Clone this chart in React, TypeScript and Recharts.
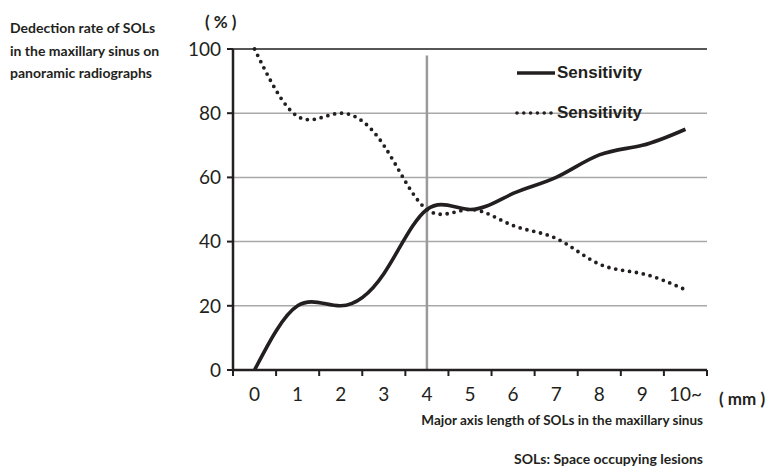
import React from 'react'
import {
  LineChart, Line, XAxis, YAxis, CartesianGrid, ReferenceLine, Legend,
} from 'recharts'

// ---------------------------------------------------------------------------
// Data
// ---------------------------------------------------------------------------

const X_LABELS = ['0', '1', '2', '3', '4', '5', '6', '7', '8', '9', '10~']
const SOLID = [0, 20, 20, 30, 50, 50, 55, 60, 67, 70, 75]
const DOTTED = [100, 79, 80, 70, 50, 50, 45, 41, 33, 30, 25]
const Y_TICKS = [0, 20, 40, 60, 80, 100]
const SERIES_NAMES = ['Sensitivity', 'Sensitivity']
const MARK_X = 4

const rows = X_LABELS.map((label, i) => ({ x: i, label, solid: SOLID[i], dotted: DOTTED[i] }))
// tick marks sit on band edges, labels in the middle
const X_TICKS = [...X_LABELS.map((_, i) => i - 0.5), X_LABELS.length - 0.5]

// ---------------------------------------------------------------------------
// Layout / colours
// ---------------------------------------------------------------------------

const W = 769
const H = 472
const MARGIN = { top: 49, right: 62, bottom: 72, left: 173 }
const Y_AXIS_W = 60
const PLOT_W = W - MARGIN.left - Y_AXIS_W - MARGIN.right
const HALF_BAND = PLOT_W / X_LABELS.length / 2

const INK = '#231f20'
const GRID = '#a9a9a9'
const TICK_FONT = 'Lato, "Open Sans", sans-serif'
const LABEL_FONT = 'Lato, "Open Sans", sans-serif'

function XTick({ x, y, index }: any) {
  if (index >= X_LABELS.length) return <g />
  return (
    <text x={x + HALF_BAND} y={y + 21} textAnchor="middle" fontSize={19} fill={INK} fontFamily={TICK_FONT}>
      {X_LABELS[index]}
    </text>
  )
}

function LegendBox() {
  const row = (dashed: boolean, name: string, key: number) => (
    <div key={key} style={{ display: 'flex', alignItems: 'center', height: 40 }}>
      <svg width={42} height={10}>
        <line
          x1={2} y1={5} x2={40} y2={5} stroke={INK}
          strokeWidth={dashed ? 3.6 : 3.5}
          strokeDasharray={dashed ? '0 6.8' : undefined}
          strokeLinecap={dashed ? 'round' : 'butt'}
        />
      </svg>
      <span style={{ fontFamily: '"Liberation Sans", Arial, sans-serif', fontWeight: 700, fontSize: 17, color: INK }}>
        {name}
      </span>
    </div>
  )
  return <div>{SERIES_NAMES.map((n, i) => row(i === 1, n, i))}</div>
}

export default function App() {
  return (
    <div style={{ position: 'absolute', left: 0, top: 0, width: W, height: H, background: '#fff' }}>
      <LineChart width={W} height={H} data={rows} margin={MARGIN}>
        <CartesianGrid vertical={false} stroke={GRID} strokeWidth={1.5} />
        <XAxis
          dataKey="x" type="number" domain={[-0.5, X_LABELS.length - 0.5]} ticks={X_TICKS}
          interval={0} height={30} tick={<XTick />} tickSize={6} tickMargin={4}
          axisLine={{ stroke: INK, strokeWidth: 2.5 }} tickLine={{ stroke: INK, strokeWidth: 2 }}
        />
        <YAxis
          domain={[0, 100]} ticks={Y_TICKS} width={Y_AXIS_W} tickSize={6} tickMargin={6}
          tick={{ fontSize: 19, fill: INK, fontFamily: TICK_FONT }}
          axisLine={{ stroke: INK, strokeWidth: 2.5 }} tickLine={{ stroke: INK, strokeWidth: 2 }}
        />
        <YAxis
          yAxisId="r" orientation="right" domain={[0, 100]} width={0}
          tick={false} tickLine={false} axisLine={{ stroke: '#333', strokeWidth: 1.5 }}
        />
        <ReferenceLine y={100} stroke="#333" strokeWidth={1.5} />
        <ReferenceLine
          segment={[{ x: MARK_X, y: 0 }, { x: MARK_X, y: 98 }]}
          stroke="#9a9a9a" strokeWidth={2.5}
        />
        <Line
          dataKey="dotted" name={SERIES_NAMES[1]} type="natural" stroke={INK} strokeWidth={3.8}
          strokeDasharray="0 7" strokeLinecap="round" dot={false} isAnimationActive={false}
        />
        <Line
          dataKey="solid" name={SERIES_NAMES[0]} type="natural" stroke={INK} strokeWidth={3.6}
          dot={false} isAnimationActive={false}
        />
        <Legend
          layout="horizontal" verticalAlign="middle" align="center"
          content={<LegendBox />}
          wrapperStyle={{ left: 515, top: 53, width: 200 }}
        />
      </LineChart>

      <div style={{ position: 'absolute', left: 10, top: 17, fontFamily: LABEL_FONT, fontWeight: 700, fontSize: 14, lineHeight: '22.5px', color: INK }}>
        Dedection rate of SOLs<br />in the maxillary sinus on<br />panoramic radiographs
      </div>
      <div style={{ position: 'absolute', left: 205, top: 11, fontFamily: LABEL_FONT, fontWeight: 700, fontSize: 17, color: INK, whiteSpace: 'pre' }}>
        ( % )
      </div>
      <div style={{ position: 'absolute', left: 719, top: 388, fontFamily: LABEL_FONT, fontWeight: 700, fontSize: 17, color: INK, whiteSpace: 'pre' }}>
        ( mm )
      </div>
      <div style={{ position: 'absolute', right: W - 703, top: 412, fontFamily: LABEL_FONT, fontWeight: 700, fontSize: 13.5, color: INK, whiteSpace: 'nowrap' }}>
        Major axis length of SOLs in the maxillary sinus
      </div>
      <div style={{ position: 'absolute', right: W - 703, top: 450, fontFamily: LABEL_FONT, fontWeight: 700, fontSize: 14, color: INK, whiteSpace: 'nowrap' }}>
        SOLs: Space occupying lesions
      </div>
    </div>
  )
}
